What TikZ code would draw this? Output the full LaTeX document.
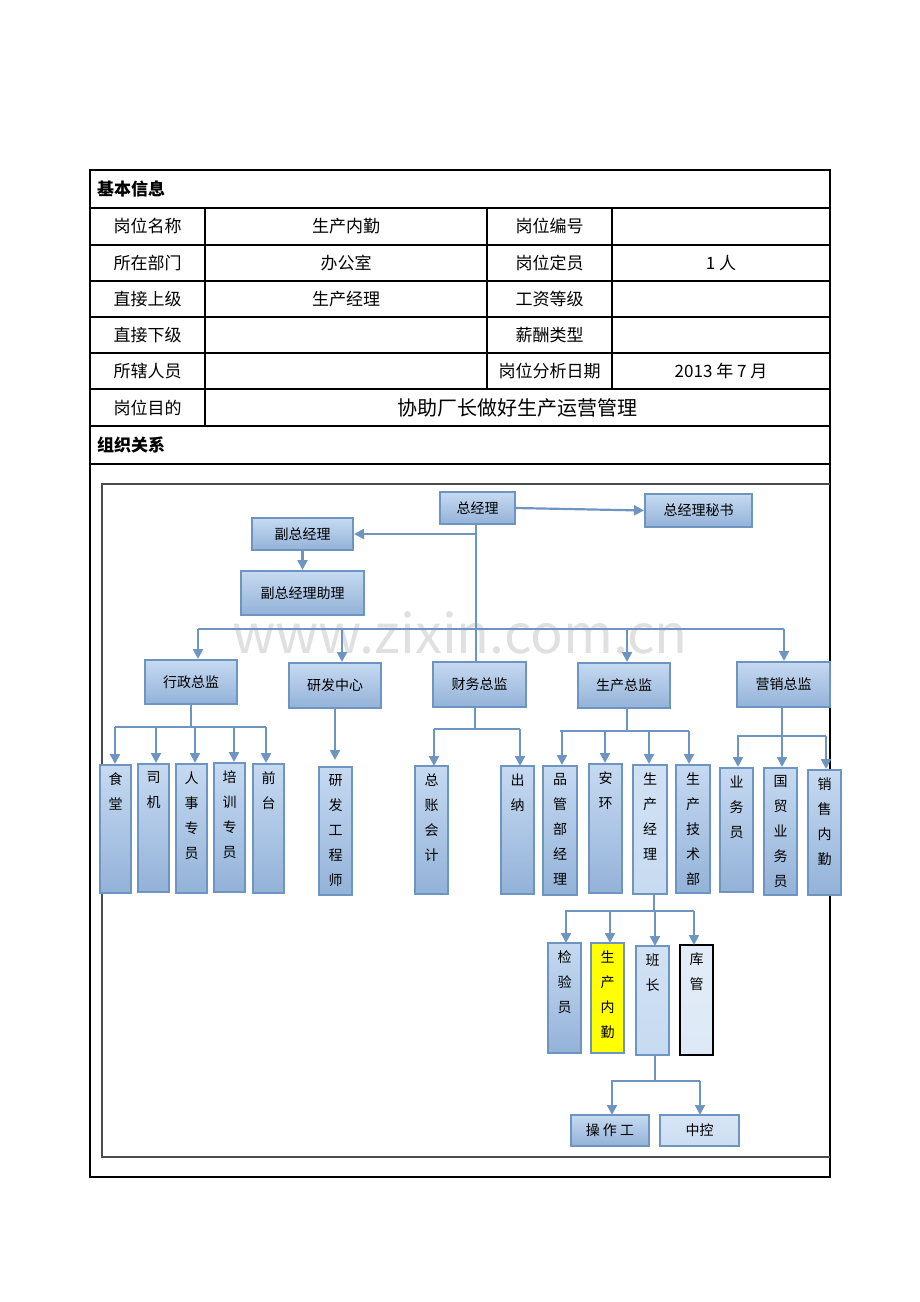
\documentclass[tikz,border=0pt]{standalone}
\usepackage{fontspec}
\setmainfont{Noto Sans CJK SC}
\usetikzlibrary{arrows.meta,calc}
\definecolor{bd}{HTML}{6E95C2}
\definecolor{tp}{HTML}{C6DAF1}
\definecolor{bt}{HTML}{93B2D8}
\tikzset{
 box/.style={draw=bd,line width=1pt,top color=tp,bottom color=bt,inner sep=0pt},
 arr/.style={draw=bd,line width=1.1pt,-{Triangle[length=5pt,width=5pt]}},
 ln/.style={draw=bd,line width=1.1pt},
 tl/.style={line width=1pt},
 tt/.style={font=\fontsize{8.5}{10}\selectfont},
 ct/.style={font=\fontsize{7}{8}\selectfont},
 vt/.style={font=\fontsize{7}{12.5}\selectfont,align=center,anchor=north,inner sep=0pt}
}
\newcommand\bx[7][]{\node[box,#1,minimum width={(#5-#3)*0.5pt},minimum height={(#6-#4)*0.5pt}] (#2) at ({(#3+#5)/2},{(#4+#6)/2}) {};}
\newcommand\hb[7][]{\node[box,#1,ct,minimum width={(#5-#3)*0.5pt},minimum height={(#6-#4)*0.5pt}] (#2) at ({(#3+#5)/2},{(#4+#6)/2}) {#7};}
\newcommand\vb[7][]{\bx[#1]{#2}{#3}{#4}{#5}{#6}{}\node[vt] (#2t) at ([yshift=-4pt]#2.north) {#7};}
\begin{document}
\begin{tikzpicture}[x=0.5pt,y=-0.5pt]
\useasboundingbox (0,0) rectangle (920,1302);
% table
\draw[tl] (90,170) rectangle (830,1177);
\foreach \y in {208,245,281,317,353,389,426,464} \draw[tl] (90,\y) -- (830,\y);
\foreach \x in {205,487,612} \draw[tl] (\x,208) -- (\x,389);
\draw[tl] (205,389) -- (205,426);
\node[tt,anchor=west,font=\fontsize{8.5}{10}\selectfont\bfseries] (h1) at (90,189) {基本信息};
\node[tt,anchor=west,font=\fontsize{8.5}{10}\selectfont\bfseries] (h2) at (90,445) {组织关系};
\foreach \a/\b/\c/\d/\y [count=\i] in {岗位名称/生产内勤/岗位编号//226, 所在部门/办公室/岗位定员/1 人/263, 直接上级/生产经理/工资等级//299, 直接下级//薪酬类型//335, 所辖人员//岗位分析日期/2013 年 7 月/371}{
 \node[tt] (ra\i) at (147.5,\y) {\a};
 \node[tt] (rb\i) at (346,\y) {\b};
 \node[tt] (rc\i) at (549.5,\y) {\c};
 \node[tt] (rd\i) at (721,\y) {\d};
}
\node[tt] (mu) at (147.5,408) {岗位目的};
\node[font=\fontsize{10}{12}\selectfont] (mv) at (517,408) {协助厂长做好生产运营管理};
% chart frame
\draw[line width=0.6pt,black!70] (830,484) -- (102,484) -- (102,1157) -- (830,1157);
\node[text=black!12,font=\fontsize{27}{30}\selectfont] (wm) at (460,633) {www.zixin.com.cn};
% boxes
\hb{zjl}{440}{492}{515}{524}{总经理}
\hb{ms}{645}{494}{752}{527}{总经理秘书}
\hb{fz}{252}{518}{353}{550}{副总经理}
\hb{zl}{241}{571}{364}{615}{副总经理助理}
\hb{xz}{145}{660}{237}{704}{行政总监}
\hb{yf}{289}{663}{381}{708}{研发中心}
\hb{cw}{433}{662}{526}{707}{财务总监}
\hb{sc}{578}{663}{670}{708}{生产总监}
\hb{yx}{737}{662}{830}{707}{营销总监}
\vb{st}{100}{765}{131}{893}{食\\堂}
\vb{sj}{138}{764}{169}{892}{司\\机}
\vb{rs}{176}{764}{207}{893}{人\\事\\专\\员}
\vb{px}{214}{763}{245}{892}{培\\训\\专\\员}
\vb{qt}{253}{764}{284}{893}{前\\台}
\vb{gc}{319}{767}{352}{895}{研\\发\\工\\程\\师}
\vb{zk}{415}{766}{448}{894}{总\\账\\会\\计}
\vb{cn}{501}{766}{534}{894}{出\\纳}
\vb{pg}{543}{766}{577}{895}{品\\管\\部\\经\\理}
\vb{ah}{589}{764}{622}{893}{安\\环}
\vb[top color=tp!80,bottom color=tp]{jl}{633}{765}{667}{894}{生\\产\\经\\理}
\vb{js}{676}{765}{710}{893}{生\\产\\技\\术\\部}
\vb{yw}{720}{768}{753}{892}{业\\务\\员}
\vb{gm}{764}{768}{797}{895}{国\\贸\\业\\务\\员}
\vb{xs}{808}{770}{841}{895}{销\\售\\内\\勤}
\vb{jy}{548}{943}{581}{1053}{检\\验\\员}
\vb[top color=yellow,bottom color=yellow,draw=bd]{nq}{591}{943}{624}{1053}{生\\产\\内\\勤}
\vb[top color=tp!80,bottom color=tp]{bz}{636}{946}{669}{1055}{班\\长}
\vb[top color=tp!50,bottom color=tp!60,draw=black]{kg}{680}{945}{713}{1055}{库\\管}
\hb{cz}{571}{1115}{649}{1146}{操 作 工}
\hb[top color=tp!70,bottom color=tp!90]{zk2}{660}{1115}{739}{1146}{中控}
% connectors
\draw[arr] (zjl.east) -- (ms.west);
\draw[ln] (476,524) -- (476,662);
\draw[arr] (476,534) -- (fz.east);
\draw[arr] (fz.south) -- (zl.north);
\draw[ln] (198,629) -- (784,629);
\foreach \x/\n in {198/xz,342/yf,627/sc,784/yx} \draw[arr] (\x,629) -- (\n.north-|\x,0);
\draw[ln] (191,704) -- (191,727);
\draw[ln] (115,727) -- (266,727);
\foreach \x/\n in {115/st,156/sj,195/rs,234/px,266/qt} \draw[arr] (\x,727) -- (\n.north-|\x,0);
\draw[arr] (335,708) -- (335,760);
\draw[ln] (475,707) -- (475,729);
\draw[ln] (434,729) -- (520,729);
\draw[arr] (434,729) -- (434,766);
\draw[arr] (520,729) -- (520,766);
\draw[ln] (627,708) -- (627,731);
\draw[ln] (560,731) -- (689,731);
\foreach \x/\n in {562/pg,605/ah,649/jl,689/js} \draw[arr] (\x,731) -- (\n.north-|\x,0);
\draw[ln] (782,707) -- (782,736);
\draw[ln] (737,736) -- (826,736);
\foreach \x/\n in {738/yw,782/gm,826/xs} \draw[arr] (\x,736) -- (\n.north-|\x,0);
\draw[ln] (654,894) -- (654,911);
\draw[ln] (565,911) -- (694,911);
\draw[arr] (566,911) -- (566,943);
\draw[arr] (610,911) -- (610,943);
\draw[arr] (655,911) -- (655,946);
\draw[arr] (694,911) -- (694,945);
\draw[ln] (655,1055) -- (655,1081);
\draw[ln] (611,1081) -- (700,1081);
\draw[arr] (612,1081) -- (612,1115);
\draw[arr] (700,1081) -- (700,1115);
\end{tikzpicture}
\end{document}
